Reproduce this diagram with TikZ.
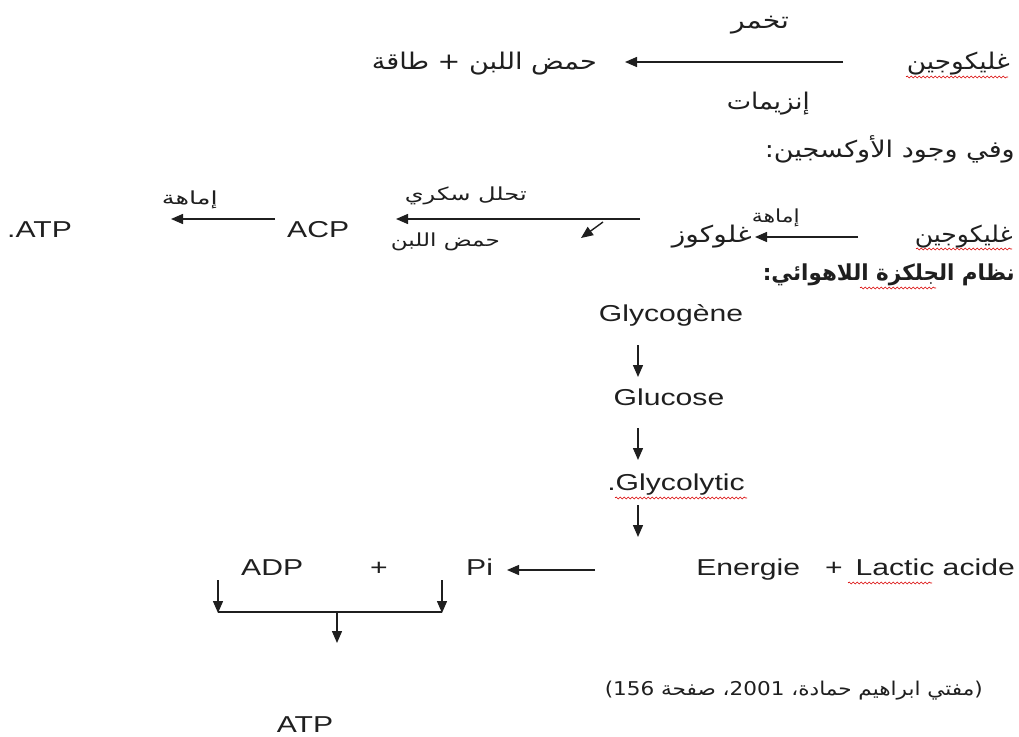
\documentclass[tikz,border=0pt]{standalone}
\usepackage{fontspec}
\usepackage{graphicx}
\setmainfont{Liberation Sans}[FakeStretch=1.31]
\newfontfamily\arabicfont[Script=Arabic]{DejaVu Sans}
\TeXXeTstate=1
\usetikzlibrary{arrows.meta,decorations.pathmorphing}
\newcommand\artxt[2]{\resizebox{#1}{\height}{\arabicfont #2}}
\tikzset{
  lat/.style={font=\fontsize{23}{28}\selectfont, inner sep=0pt, text=black!88},
  arb/.style={font=\fontsize{23}{28}\selectfont, inner sep=0pt, text=black!88},
  arsm/.style={font=\fontsize{18}{22}\selectfont, inner sep=0pt, text=black!88},
  arr/.style={-{Triangle[length=12pt,width=10pt]}, line width=1.4pt, black!88},
  ln/.style={line width=1.4pt, black!88},
  spell/.style={red!85!black, line width=0.6pt, decorate, decoration={snake, segment length=4pt, amplitude=1pt}}
}
\begin{document}
\begin{tikzpicture}[x=1pt,y=-1pt]
\useasboundingbox (0,0) rectangle (1019,736);
% row 1
\node[arb, anchor=base] (tk) at (760,28) {\artxt{58pt}{\beginR تخمر\endR}};
\node[arb, anchor=base east] (g1) at (1010,69) {\artxt{103pt}{\beginR غليكوجين\endR}};
\node[arb, anchor=base east] (h1) at (597,69) {\artxt{225pt}{\beginR حمض اللبن + طاقة\endR}};
\node[arb, anchor=base east] (enz) at (810,109) {\artxt{83pt}{\beginR إنزيمات\endR}};
\coordinate (a1s) at (843,62);
\coordinate (a1e) at (625,62);
\draw[arr] (a1s) -- (a1e);
\draw[spell] (906,77) -- (1008,77);
% row 2
\node[arb, anchor=base east] (ox) at (1015,157) {\artxt{250pt}{\beginR وفي وجود الأوكسجين:\endR}};
% row 3
\node[lat, anchor=base west] (atp1) at (7,237) {.ATP};
\node[lat, anchor=base west] (acp) at (287,237) {ACP};
\node[arsm, anchor=base east] (im1) at (218,204) {\artxt{56pt}{\beginR إماهة\endR}};
\node[arsm, anchor=base east] (thl) at (527,200) {\artxt{122pt}{\beginR تحلل سكري\endR}};
\node[arsm, anchor=base east] (hl) at (500,246) {\artxt{109pt}{\beginR حمض اللبن\endR}};
\node[arb, anchor=base east] (glz) at (752,242) {\artxt{80pt}{\beginR غلوكوز\endR}};
\node[arsm, anchor=base east] (im2) at (800,222) {\artxt{48pt}{\beginR إماهة\endR}};
\node[arb, anchor=base east] (g3) at (1013,242) {\artxt{98pt}{\beginR غليكوجين\endR}};
\draw[spell] (916,249) -- (1012,249);
\coordinate (b1s) at (858,237);
\coordinate (b1e) at (755,237);
\draw[arr] (b1s) -- (b1e);
\coordinate (b2s) at (640,219);
\coordinate (b2e) at (396,219);
\draw[arr] (b2s) -- (b2e);
\coordinate (b3s) at (603,222);
\coordinate (b3e) at (581,238);
\draw[arr] (b3s) -- (b3e);
\coordinate (b4s) at (275,219);
\coordinate (b4e) at (171,219);
\draw[arr] (b4s) -- (b4e);
% heading
\node[arb, anchor=base east, font=\fontsize{22}{26}\selectfont\bfseries] (hd) at (1015,280) {\artxt{252pt}{\bfseries\beginR نظام الجلكزة اللاهوائي:\endR}};
\draw[spell] (860,288) -- (936,288);
% vertical chain
\node[lat, anchor=base] (gly) at (671,321) {Glycogène};
\node[lat, anchor=base] (glu) at (669,405) {Glucose};
\node[lat, anchor=base] (gcl) at (676,490) {.Glycolytic};
\draw[spell] (615,498) -- (747,498);
\coordinate (c1s) at (638,345); \coordinate (c1e) at (638,377);
\coordinate (c2s) at (638,428); \coordinate (c2e) at (638,460);
\coordinate (c3s) at (638,505); \coordinate (c3e) at (638,537);
\draw[arr] (c1s) -- (c1e);
\draw[arr] (c2s) -- (c2e);
\draw[arr] (c3s) -- (c3e);
% bottom row
\node[lat, anchor=base west] (adp) at (241,575) {ADP};
\node[lat, anchor=base] (plus) at (379,575) {+};
\node[lat, anchor=base west] (pi) at (466,575) {Pi};
\node[lat, anchor=base east] (en) at (1015,575) {Energie\hspace{25pt}+\hspace{13pt}Lactic acide};
\draw[spell] (848,583) -- (932,583);
\coordinate (d1s) at (595,570); \coordinate (d1e) at (507,570);
\draw[arr] (d1s) -- (d1e);
\coordinate (e1s) at (218,580); \coordinate (e1e) at (218,613);
\coordinate (e2s) at (442,580); \coordinate (e2e) at (442,613);
\coordinate (fl) at (218,612); \coordinate (fr) at (442,612);
\coordinate (gs) at (337,612); \coordinate (ge) at (337,643);
\draw[arr] (e1s) -- (e1e);
\draw[arr] (e2s) -- (e2e);
\draw[ln] (fl) -- (fr);
\draw[arr] (gs) -- (ge);
% citation and ATP
\node[arsm, anchor=base east, font=\fontsize{19}{23}\selectfont] (cit) at (983,695) {\artxt{378pt}{\beginR(مفتي ابراهيم حمادة، \beginL 2001\endL، صفحة \beginL 156\endL)\endR}};
\node[lat, anchor=base] (atp2) at (305,732) {ATP};
\end{tikzpicture}
\end{document}
